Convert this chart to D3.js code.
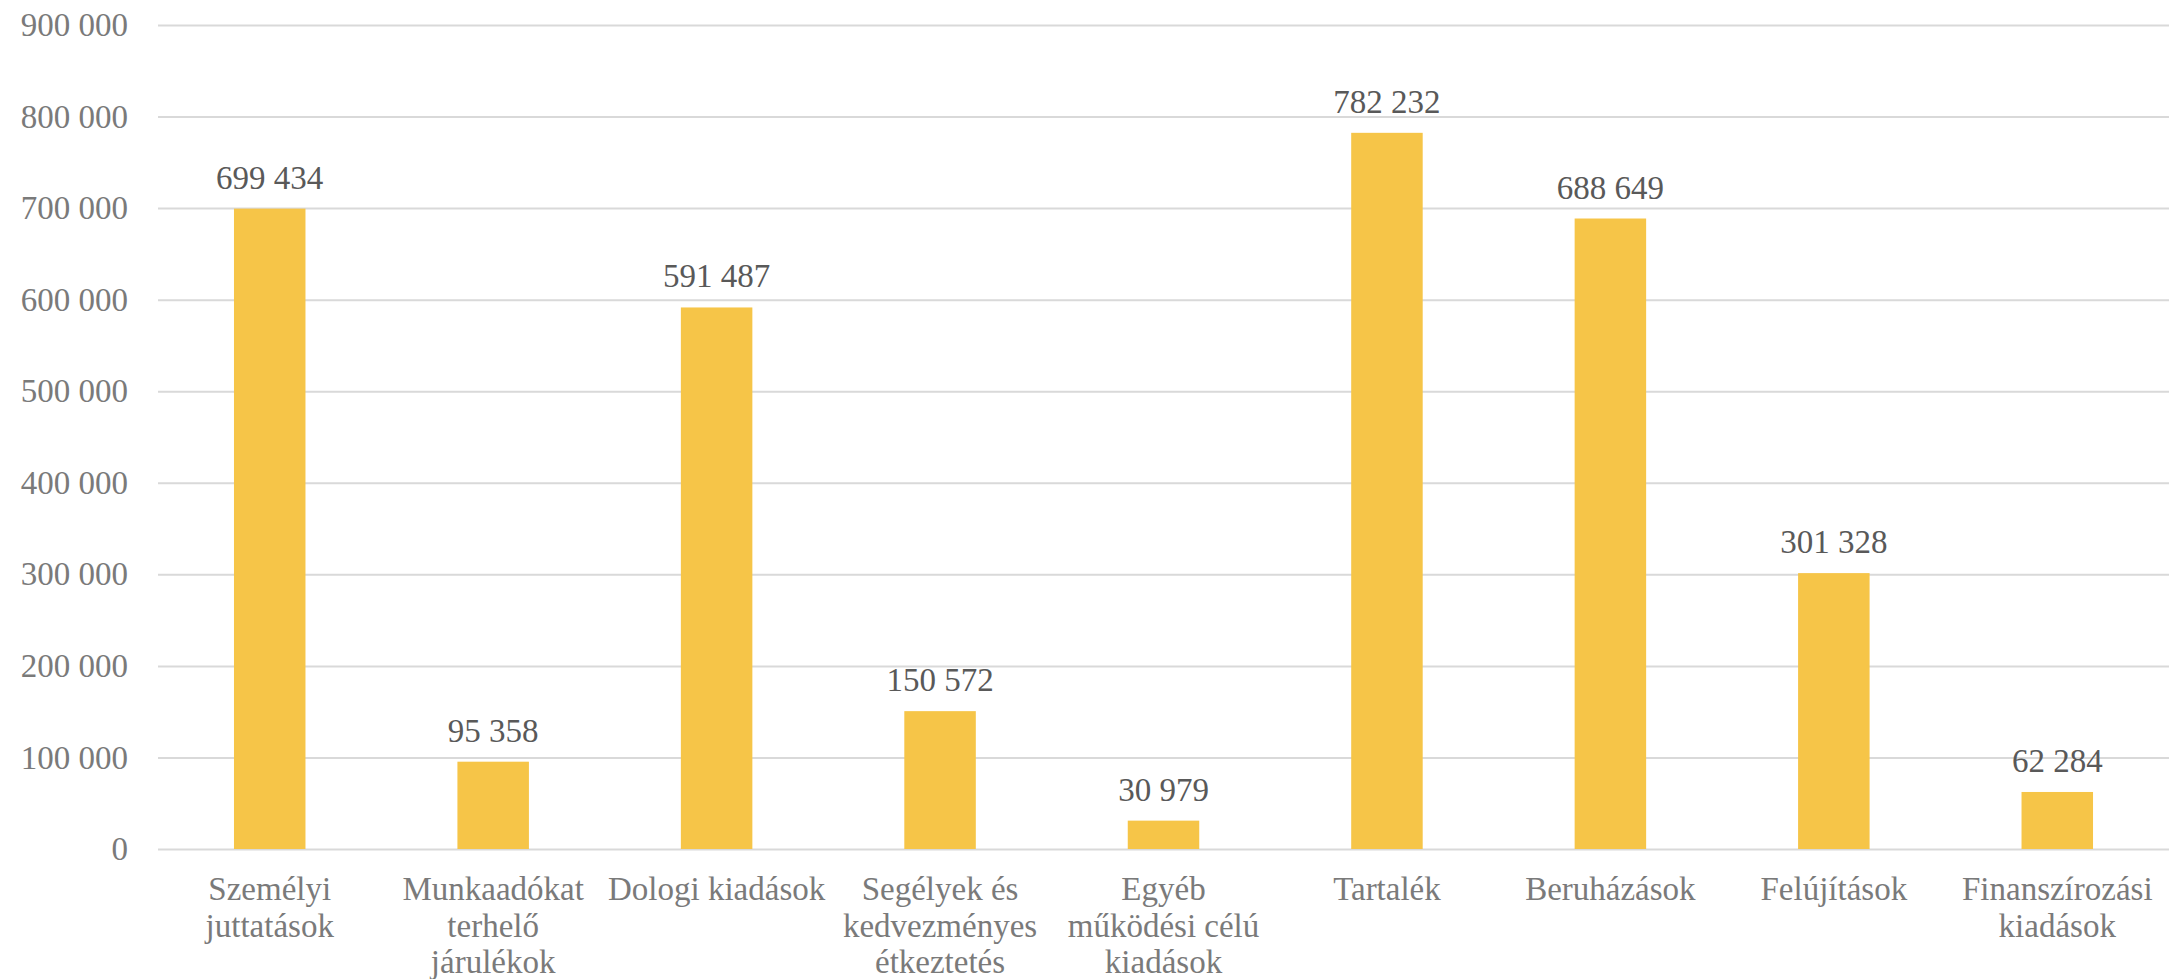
<!DOCTYPE html>
<html>
<head>
<meta charset="utf-8">
<script src="https://cdn.jsdelivr.net/npm/d3@7"></script>
<style>
  body { margin: 0; background: #fff; }
  svg text { font-family: "Liberation Serif", "DejaVu Serif", serif; }
</style>
</head>
<body>
<svg id="chart" width="2182" height="979"></svg>
<script>
// Data ---------------------------------------------------------------
// "|" marks where the category label wraps
const categories = [
    "Személyi|juttatások",
    "Munkaadókat|terhelő|járulékok",
    "Dologi kiadások",
    "Segélyek és|kedvezményes|étkeztetés",
    "Egyéb|működési célú|kiadások",
    "Tartalék",
    "Beruházások",
    "Felújítások",
    "Finanszírozási|kiadások"
];
const values = [699434, 95358, 591487, 150572, 30979, 782232, 688649, 301328, 62284];
const yTicks = [0, 100000, 200000, 300000, 400000, 500000, 600000, 700000, 800000, 900000];

// Chart --------------------------------------------------------------
const svg = d3.select("#chart");
const margin = { top: 25, right: 13, bottom: 130, left: 158 };
const width = +svg.attr("width");
const height = +svg.attr("height");

const locale = d3.formatLocale({ decimal: ",", thousands: " ", grouping: [3], currency: ["", ""] });
const fmt = locale.format(",d");

const x = d3.scaleBand()
    .domain(categories)
    .range([margin.left, width - margin.right])
    .paddingInner(0.68)
    .paddingOuter(0.34);

const y = d3.scaleLinear()
    .domain([0, 900000])
    .range([height - margin.bottom, margin.top]);

// gridlines + y labels
const yAxis = svg.append("g")
    .attr("transform", "translate(" + margin.left + ",0)")
    .call(d3.axisLeft(y)
        .tickValues(yTicks)
        .tickFormat(fmt)
        .tickSize(-(width - margin.left - margin.right))
        .tickPadding(30));
yAxis.select(".domain").remove();
yAxis.selectAll(".tick line").attr("stroke", "#d9d9d9").attr("stroke-width", 2);
yAxis.selectAll(".tick text")
    .attr("fill", "#7a7a7a")
    .style("font-size", "33px");

// bars
svg.append("g")
    .selectAll("rect")
    .data(values)
    .enter()
    .append("rect")
    .attr("x", function (d, i) { return x(categories[i]); })
    .attr("y", function (d) { return y(d); })
    .attr("width", x.bandwidth())
    .attr("height", function (d) { return y(0) - y(d); })
    .attr("fill", "#F6C548");

// data labels
svg.append("g")
    .selectAll("text")
    .data(values)
    .enter()
    .append("text")
    .attr("x", function (d, i) { return x(categories[i]) + x.bandwidth() / 2; })
    .attr("y", function (d) { return y(d) - 20; })
    .attr("text-anchor", "middle")
    .attr("fill", "#595959")
    .style("font-size", "33px")
    .text(function (d) { return fmt(d); });

// category labels
const xAxis = svg.append("g")
    .attr("transform", "translate(0," + y(0) + ")")
    .call(d3.axisBottom(x).tickSize(0).tickFormat(""));
xAxis.select(".domain").remove();
xAxis.selectAll(".tick").each(function (d) {
    const lines = d.split("|");
    const t = d3.select(this).append("text")
        .attr("text-anchor", "middle")
        .attr("fill", "#7a7a7a")
        .style("font-size", "33px");
    lines.forEach(function (line, i) {
        t.append("tspan")
            .attr("x", 0)
            .attr("y", 51 + i * 36.5)
            .text(line);
    });
});
</script>
</body>
</html>
